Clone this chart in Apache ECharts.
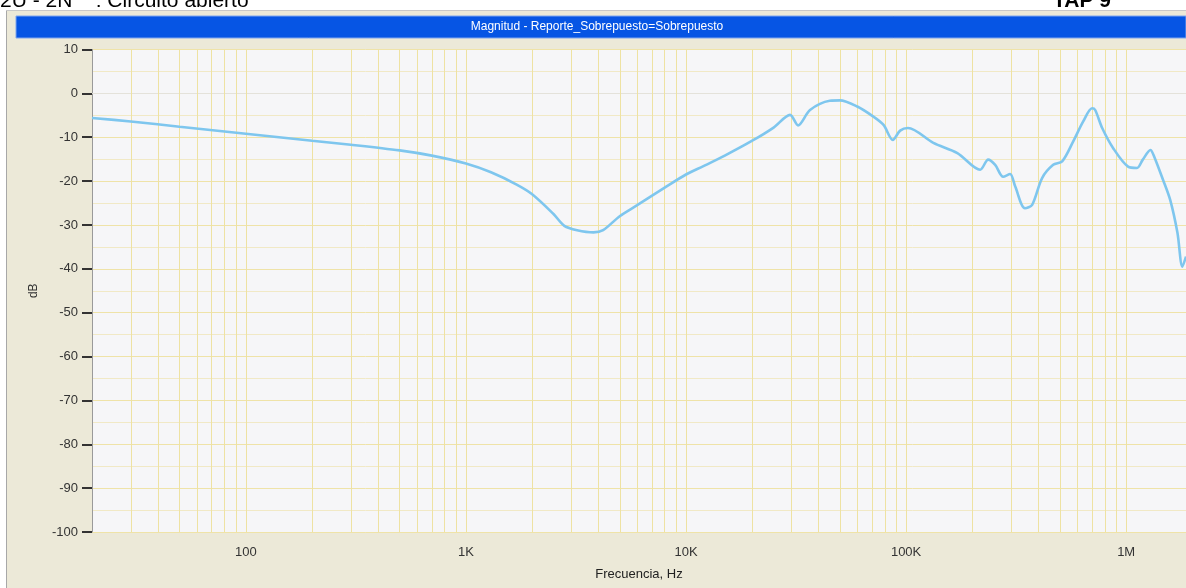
<!DOCTYPE html>
<html><head><meta charset="utf-8">
<script src="https://cdn.jsdelivr.net/npm/echarts@6/dist/echarts.min.js"></script>
<style>html,body{margin:0;padding:0;background:#fff}#c{width:1186px;height:588px}</style>
</head><body><div id="c"></div>
<script>
// Frequency (Hz) and magnitude (dB)
const freqHz = [20, 30, 50, 100, 200, 300, 500, 700, 1000, 1300, 1700, 2000, 2500, 2800, 3200, 3800, 4200, 5000, 6000, 8000, 10000, 12000, 15000, 20000, 25000, 29700, 32300, 36600, 45000, 50000, 60000, 71000, 79000, 87000, 94000, 102000, 133000, 171000, 217000, 236000, 254000, 276000, 297000, 313000, 347000, 374000, 415000, 466000, 512000, 574000, 638000, 700000, 723000, 778000, 873000, 1020000, 1120000, 1190000, 1290000, 1330000, 1470000, 1585000, 1710000, 1800000, 1870000];
const magDb = [-5.6, -6.4, -7.6, -9.2, -10.8, -11.7, -13.0, -14.2, -16.0, -18.0, -20.8, -23.0, -27.5, -30.2, -31.2, -31.7, -31.2, -28.0, -25.5, -21.5, -18.5, -16.6, -14.2, -10.8, -7.8, -4.9, -7.3, -3.8, -1.7, -1.6, -3.0, -5.3, -7.2, -10.6, -8.5, -7.9, -11.3, -13.6, -17.4, -15.1, -16.3, -19.0, -18.4, -21.2, -26.2, -25.4, -19.3, -16.3, -15.5, -11.0, -6.4, -3.4, -3.8, -7.9, -12.5, -16.7, -17.0, -15.1, -12.9, -14.0, -19.7, -24.3, -31.8, -39.5, -37.2];
const xTickValues = [100, 1000, 10000, 100000, 1000000];
const xTickLabels = ['100', '1K', '10K', '100K', '1M'];
const yMin = -100, yMax = 10, yStep = 10;

const xMin = 20, xMax = 1870000;
const gridFreqs = [];
for (let e = 1; e <= 6; e++) {
  for (let k = 1; k <= 9; k++) {
    const v = k * Math.pow(10, e);
    if (v > xMin && v < xMax) gridFreqs.push(v);
  }
}
const labelMap = {};
xTickValues.forEach((v, i) => labelMap[v] = xTickLabels[i]);

const chart = echarts.init(document.getElementById('c'), null, {renderer: 'canvas'});
chart.setOption({
  animation: false,
  backgroundColor: '#ECE9D8',
  grid: {left: 92, right: 0, top: 49.5, bottom: 56, show: true, backgroundColor: '#F6F6F8', borderWidth: 0},
  xAxis: {
    type: 'log', logBase: 10, min: xMin, max: xMax,
    name: 'Frecuencia, Hz', nameLocation: 'middle', nameGap: 36,
    nameTextStyle: {color: '#222', fontSize: 13, fontFamily: 'Liberation Sans'},
    axisLine: {show: true, lineStyle: {color: '#E4E2DA', width: 1}},
    axisTick: {show: true, customValues: xTickValues, length: 6, lineStyle: {color: '#E0252A', width: 1}},
    axisLabel: {customValues: xTickValues, color: '#333', fontSize: 13, fontFamily: 'Liberation Sans', margin: 14,
      formatter: v => labelMap[Math.round(v)] || ''},
    splitLine: {show: false}, minorTick: {show: false}
  },
  yAxis: {
    type: 'value', min: yMin, max: yMax, interval: yStep,
    name: 'dB', nameLocation: 'middle', nameGap: 52, nameRotate: 90,
    nameTextStyle: {color: '#333', fontSize: 12, fontFamily: 'Liberation Sans'},
    axisLine: {show: true, lineStyle: {color: '#9A9A9A', width: 1}},
    axisTick: {show: true, length: 10, lineStyle: {color: '#333', width: 2}},
    axisLabel: {color: '#333', fontSize: 13, fontFamily: 'Liberation Sans', margin: 14},
    splitLine: {show: true, lineStyle: {color: '#EFE3A8', width: 1}},
    minorTick: {show: false, splitNumber: 2},
    minorSplitLine: {show: true, lineStyle: {color: '#F1E9C6', width: 1}}
  },
  series: [
    {
      type: 'line', data: [], z: 1, silent: true,
      markLine: {
        silent: true, symbol: ['none', 'none'], label: {show: false}, animation: false,
        lineStyle: {color: '#EEE2A2', width: 1, type: 'solid'},
        emphasis: {disabled: true},
        data: gridFreqs.map(v => ({xAxis: v}))
      }
    },
    {
      type: 'line', z: 5, showSymbol: false, smooth: 0.3,
      data: freqHz.map((f, i) => [f, magDb[i]]),
      lineStyle: {color: '#7EC6EE', width: 2.6}
    }
  ],
  graphic: [
    {type: 'rect', shape: {x: 0, y: 0, width: 1186, height: 10}, style: {fill: '#FFFFFF'}, silent: true},
    {type: 'rect', shape: {x: 0, y: 0, width: 6, height: 588}, style: {fill: '#FFFFFF'}, silent: true},
    {type: 'line', shape: {x1: 6.5, y1: 10, x2: 6.5, y2: 588}, style: {stroke: '#A8A8A8', lineWidth: 1}, silent: true},
    {type: 'line', shape: {x1: 6, y1: 10.5, x2: 1186, y2: 10.5}, style: {stroke: '#C8C8C8', lineWidth: 1}, silent: true},
    {type: 'rect', shape: {x: 16, y: 16, width: 1170, height: 22}, style: {fill: '#0655E4', stroke: '#7FA6EE', lineWidth: 1}, silent: true},
    {type: 'text', x: 597, y: 27, style: {text: 'Magnitud - Reporte_Sobrepuesto=Sobrepuesto', fill: '#FFFFFF', font: '12px "Liberation Sans"', textAlign: 'center', textVerticalAlign: 'middle'}, silent: true},
    {type: 'text', x: 0, y: 12, style: {text: '2U - 2N    : Circuito abierto', fill: '#000', font: '21px "Liberation Sans"', textAlign: 'left', textVerticalAlign: 'bottom'}, silent: true},
    {type: 'text', x: 1053, y: 12, style: {text: 'TAP 9', fill: '#000', font: 'bold 21px "Liberation Sans"', textAlign: 'left', textVerticalAlign: 'bottom'}, silent: true}
  ]
});
</script>
</body></html>
